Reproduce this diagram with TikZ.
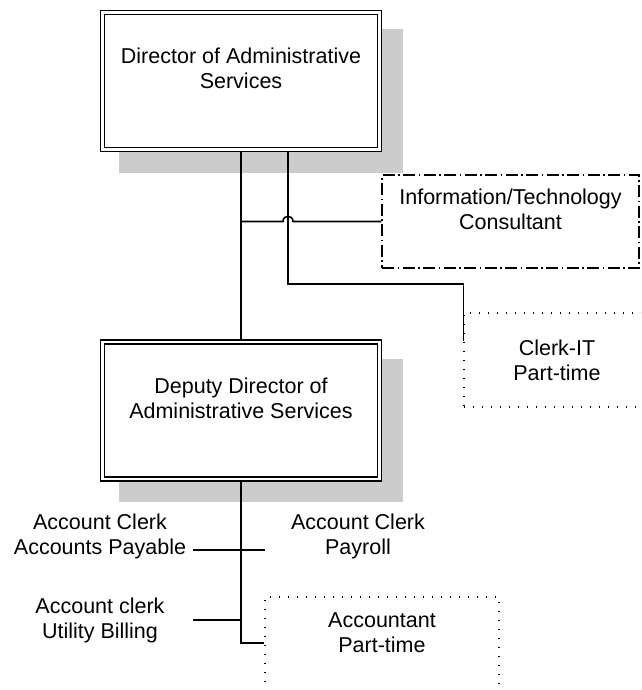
\documentclass[tikz,border=0pt]{standalone}
\usepackage{fontspec}
\setmainfont{Liberation Sans}
\usetikzlibrary{backgrounds}
\definecolor{shade}{RGB}{204,204,204}
\tikzset{
  every node/.style={font=\fontsize{21.5}{25}\selectfont, align=center},
  mainbox/.style={draw, fill=white, double, double distance=2.4pt, line width=1.35pt,
    minimum width=277pt, minimum height=137pt, inner sep=0pt},
  consbox/.style={draw, fill=white, line width=1.5pt,
    dash pattern=on 12pt off 3.5pt on 1.5pt off 3.5pt,
    minimum width=257pt, minimum height=93pt, inner sep=0pt},
  partbox/.style={draw, line width=1.3pt, dash pattern=on 1.3pt off 7.7pt,
    minimum width=186pt, minimum height=94pt, inner sep=0pt},
  postbox/.style={minimum width=186pt, inner sep=0pt},
  conn/.style={line width=1.6pt},
  shadowfill/.style={fill=shade}
}
\begin{document}
\begin{tikzpicture}[x=1pt,y=-1pt]
\useasboundingbox (0,0) rectangle (641,690);
\clip (0,0) rectangle (641,690);

% positions
\node[mainbox] (dir) at (241,81) {Director of Administrative\\Services\\\mbox{}};
\node[mainbox] (dep) at (241,410.5) {Deputy Director of\\Administrative Services\\\mbox{}};
\node[consbox] (it) at (510.5,221.5) {Information/Technology\\Consultant\\\mbox{}};
\node[partbox] (clk) at (557,360) {Clerk-IT\\Part-time};
\node[partbox, minimum width=234pt, minimum height=96pt] (acc) at (382,645) {Accountant\\Part-time\\\mbox{}};
\node[postbox] (ap) at (100,536.5) {Account Clerk\\Accounts Payable};
\node[postbox] (pr) at (358,536.5) {Account Clerk\\Payroll};
\node[postbox] (ub) at (100,620) {Account clerk\\Utility Billing};

\begin{scope}[on background layer]
  % drop shadows of the two main boxes
  \fill[shadowfill] ([shift={(17.5pt,-17.5pt)}]dir.north west) rectangle ([shift={(22.5pt,-22.5pt)}]dir.south east);
  \fill[shadowfill] ([shift={(17.5pt,-17.5pt)}]dep.north west) rectangle ([shift={(22.5pt,-22.5pt)}]dep.south east);

  \coordinate (d2) at ([xshift=47pt]dir.south);
  \coordinate (cross) at (d2 |- it.west);
  \coordinate (bend) at ([yshift=76pt]clk.west);

  % director to deputy
  \draw[conn] (dir.south) -- (dep.north);
  % to the consultant, hopping over the clerk line
  \draw[conn] (dir.south |- it.west) -- ([xshift=-5pt]cross)
    .. controls ([shift={(-5pt,7pt)}]cross) and ([shift={(5pt,7pt)}]cross) .. ([xshift=5pt]cross)
    -- (it.west);
  % to the part-time IT clerk
  \draw[conn] (d2) |- (bend) -- ([yshift=19pt]clk.west);
  % deputy trunk
  \draw[conn] (dep.south) |- ([yshift=2pt]acc.west);
  \draw[conn] ([yshift=-13.5pt]ap.east) -- ([yshift=-13.5pt]pr.west);
  \draw[conn] (ub.east) -- (ub.east -| dep.south);
\end{scope}
\end{tikzpicture}
\end{document}
